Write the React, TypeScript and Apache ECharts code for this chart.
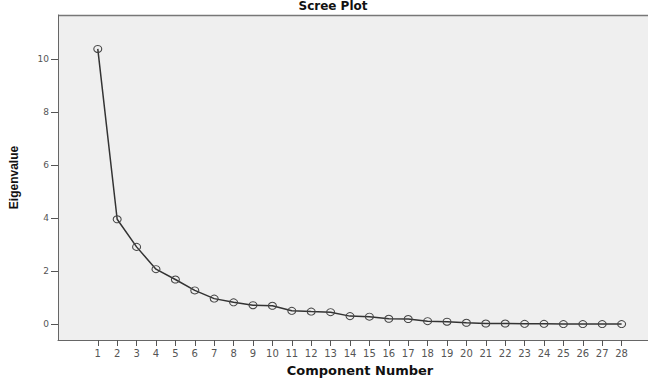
import React, { useEffect, useRef } from "react";
import * as echarts from "echarts";

const components = Array.from({ length: 28 }, (_, i) => i + 1);
const eigenvalues = [
  10.38, 3.96, 2.92, 2.08, 1.69, 1.28, 0.97, 0.83, 0.72, 0.7, 0.51, 0.48, 0.46, 0.31,
  0.29, 0.21, 0.2, 0.12, 0.1, 0.06, 0.03, 0.03, 0.02, 0.02, 0.01, 0.01, 0.01, 0.01,
];
const yTicks = [0, 2, 4, 6, 8, 10];
const titleText = "Scree Plot";
const xName = "Component Number";
const yName = "Eigenvalue";

export default function App() {
  const ref = useRef<HTMLDivElement>(null);
  useEffect(() => {
    document.body.style.margin = "0";
    const chart = echarts.init(ref.current!, null, { renderer: "svg" });
    const font = "Liberation Sans, Arial, sans-serif";
    const wide = "DejaVu Sans, sans-serif";
    chart.setOption({
      animation: false,
      backgroundColor: "#ffffff",
      textStyle: { fontFamily: font },
      graphic: [
        {
          type: "text",
          x: 333,
          y: 6,
          style: {
            text: titleText,
            font: `bold 12px ${wide}`,
            fill: "#111",
            textAlign: "center",
            textVerticalAlign: "middle",
          },
        },
        {
          type: "text",
          x: 360,
          y: 370,
          style: {
            text: xName,
            font: `bold 13px ${wide}`,
            fill: "#111",
            textAlign: "center",
            textVerticalAlign: "middle",
          },
        },
        {
          type: "line",
          shape: { x1: 58, y1: 15.5, x2: 648, y2: 15.5 },
          style: { stroke: "#777", lineWidth: 1.5 },
        },
      ],
      grid: {
        left: 58,
        top: 15,
        bottom: 39,
        right: 0,
        show: true,
        backgroundColor: "#efefef",
        borderColor: "rgba(0,0,0,0)",
        borderWidth: 0,
      },
      xAxis: {
        type: "value",
        min: -1.05,
        max: 29.36,
        axisLine: { show: true, onZero: false, lineStyle: { color: "#666", width: 1 } },
        axisTick: { show: true, length: 6, customValues: components, lineStyle: { color: "#555" } },
        axisLabel: { customValues: components, fontSize: 10, color: "#555", margin: 8, fontFamily: wide },
        splitLine: { show: false },
      },
      yAxis: {
        type: "value",
        min: -0.59,
        max: 11.66,
        name: yName,
        nameLocation: "middle",
        nameGap: 38,
        nameTextStyle: { fontWeight: "bold", fontSize: 12, color: "#111", fontFamily: font },
        axisLine: { show: true, onZero: false, lineStyle: { color: "#666", width: 1 } },
        axisTick: { show: true, length: 7, customValues: yTicks, lineStyle: { color: "#555" } },
        axisLabel: { customValues: yTicks, fontSize: 9, color: "#555", margin: 9, fontFamily: wide },
        splitLine: { show: false },
      },
      series: [
        {
          type: "line",
          data: components.map((c, i) => [c, eigenvalues[i]]),
          symbol: "circle",
          symbolSize: [8, 7],
          showAllSymbol: true,
          lineStyle: { color: "#333", width: 1.5 },
          itemStyle: { color: "rgba(0,0,0,0)", borderColor: "#444", borderWidth: 1 },
        },
      ],
    });
    return () => chart.dispose();
  }, []);
  return <div ref={ref} style={{ width: 648, height: 379 }} />;
}
